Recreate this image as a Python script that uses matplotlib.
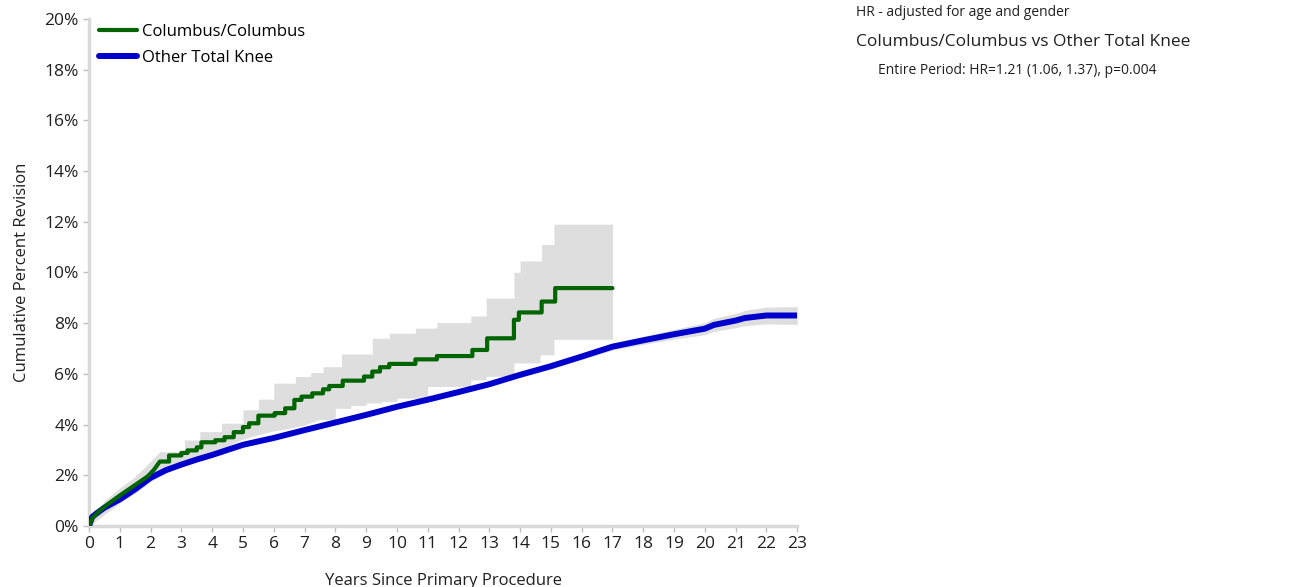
import matplotlib.pyplot as plt
from matplotlib.ticker import PercentFormatter

plt.rcParams['font.family'] = ['Open Sans', 'DejaVu Sans']

# -----------------------------
# Data
# -----------------------------
col_t = [0, 0.1, 0.3, 0.6, 1.0, 1.3, 1.6, 1.9, 2.1, 2.3, 2.6, 3.0, 3.2, 3.5, 3.65, 4.1,
         4.4, 4.7, 5.0, 5.2, 5.5, 6.03, 6.37, 6.67, 6.9, 7.25, 7.6, 7.8, 8.24, 8.93,
         9.2, 9.45, 9.75, 10.6, 11.3, 12.45, 12.93, 13.8, 13.96, 14.7, 15.14, 17.0]
col_y = [0, 0.3, 0.55, 0.85, 1.2, 1.45, 1.7, 1.95, 2.2, 2.54, 2.78, 2.88, 2.98, 3.1, 3.3, 3.38,
         3.5, 3.7, 3.9, 4.05, 4.35, 4.45, 4.64, 4.97, 5.1, 5.23, 5.39, 5.52, 5.73, 5.89,
         6.09, 6.26, 6.39, 6.57, 6.7, 6.94, 7.4, 8.13, 8.42, 8.85, 9.38, 9.38]

col_up_t = [0, 0.5, 1.0, 1.5, 2.0, 2.3, 3.1, 3.6, 4.3, 5.0, 5.5, 6.0, 6.7, 7.2, 7.6, 8.2,
            9.2, 9.75, 10.6, 11.3, 12.4, 12.9, 13.8, 14.0, 14.7, 15.1, 17.0]
col_up_y = [0, 1.0, 1.5, 1.95, 2.55, 2.93, 3.39, 3.72, 4.05, 4.58, 5.0, 5.63, 5.89, 6.05, 6.28, 6.78,
            7.4, 7.6, 7.8, 8.02, 8.28, 8.98, 10.0, 10.45, 11.1, 11.9, 11.9]

col_lo_t = [0, 0.5, 1.0, 1.5, 2.0, 2.5, 3.0, 3.5, 4.0, 4.5, 5.0, 5.5, 6.0, 6.5, 7.0, 7.5,
            8.0, 8.5, 9.0, 9.5, 10.0, 11.0, 12.4, 12.9, 13.8, 14.65, 15.1, 17.0]
col_lo_y = [0, 0.45, 0.9, 1.3, 1.75, 2.1, 2.4, 2.65, 2.9, 3.15, 3.43, 3.6, 3.75, 3.85, 3.98, 4.2,
            4.64, 4.75, 4.85, 4.9, 5.04, 5.5, 5.76, 5.9, 6.43, 6.75, 7.36, 7.36]

oth_t = [0, 0.1, 0.25, 0.5, 1, 1.5, 2, 2.5, 3, 3.5, 4, 5, 6, 7, 8, 9, 10, 11, 12, 13, 14,
         15, 16, 17, 18, 19, 20, 20.3, 21, 21.3, 22, 23]
oth_y = [0, 0.35, 0.5, 0.72, 1.05, 1.45, 1.9, 2.2, 2.42, 2.62, 2.8, 3.2, 3.47, 3.78, 4.08, 4.38,
         4.7, 4.98, 5.28, 5.59, 5.96, 6.3, 6.68, 7.07, 7.32, 7.56, 7.78, 7.93, 8.1, 8.2, 8.3, 8.3]
oth_ci = [0, 0.02, 0.03, 0.03, 0.04, 0.04, 0.05, 0.05, 0.05, 0.05, 0.05, 0.06, 0.06, 0.07, 0.07, 0.08,
          0.08, 0.09, 0.09, 0.1, 0.1, 0.11, 0.12, 0.14, 0.16, 0.19, 0.24, 0.26, 0.28, 0.3, 0.33, 0.35]

green = '#006400'
blue = '#0000cd'
band = '#dedede'


# early part is many tiny steps -> draw as a line, later part as real steps
def to_steps(t, y, smooth_until=2.3):
    xs, ys = [t[0]], [y[0]]
    for i in range(1, len(t)):
        if t[i] > smooth_until:
            xs.append(t[i])
            ys.append(y[i - 1])
        xs.append(t[i])
        ys.append(y[i])
    return xs, ys


gx, gy = to_steps(col_t, col_y)
ux, uy = to_steps(col_up_t, col_up_y, 2.3)
lx, ly = to_steps(col_lo_t, col_lo_y, 7.6)
oth_lo = [y - c for y, c in zip(oth_y, oth_ci)]
oth_hi = [y + c for y, c in zip(oth_y, oth_ci)]

# -----------------------------
# Plot
# -----------------------------
fig = plt.figure(figsize=(12.9, 5.87), dpi=100)
ax = fig.add_axes([0.069, 0.104, 0.549, 0.864])

ax.fill_between(ux, uy, color=band, lw=0)
ax.fill_between(lx, ly, color='white', lw=0)
ax.fill_between(oth_t, oth_lo, oth_hi, color=band, lw=0)

ax.plot(gx, gy, color=green, lw=3, label='Columbus/Columbus',
        solid_capstyle='round', solid_joinstyle='round', zorder=4)
ax.plot(oth_t, oth_y, color=blue, lw=4.3, label='Other Total Knee',
        solid_capstyle='round', zorder=3)

ax.set_xlim(0, 23)
ax.set_ylim(0, 20)
ax.set_xticks(range(0, 24))
ax.set_yticks(range(0, 21, 2))
ax.yaxis.set_major_formatter(PercentFormatter(decimals=0))

for s in ['top', 'right']:
    ax.spines[s].set_visible(False)
for s in ['left', 'bottom']:
    ax.spines[s].set_color('#d9d9d9')
    ax.spines[s].set_linewidth(2.5)
ax.tick_params(colors='#bfbfbf', labelcolor='#202020', labelsize=12.5, length=4, width=1)

ax.set_xlabel('Years Since Primary Procedure', fontsize=12, color='#202020', labelpad=15)
ax.set_ylabel('Cumulative Percent Revision', fontsize=12, color='#202020', labelpad=10)

ax.legend(loc='upper left', bbox_to_anchor=(0.0, 1.01), frameon=False, fontsize=12,
          handlelength=2.3, handletextpad=0.3, labelspacing=0.6, borderaxespad=0.2)

fig.text(856 / 1290, 1 - 12 / 587, 'HR - adjusted for age and gender', fontsize=10,
         va='center', color='#202020')
fig.text(856 / 1290, 1 - 42 / 587, 'Columbus/Columbus vs Other Total Knee', fontsize=12.5,
         va='center', color='#202020')
fig.text(878 / 1290, 1 - 71 / 587, 'Entire Period: HR=1.21 (1.06, 1.37), p=0.004', fontsize=10,
         va='center', color='#202020')

plt.savefig('out.png')
